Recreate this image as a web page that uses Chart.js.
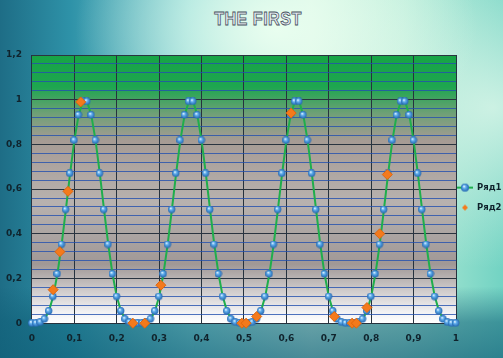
<!DOCTYPE html>
<html>
<head>
<meta charset="utf-8">
<script src="https://cdn.jsdelivr.net/npm/chart.js@4"></script>
<style>
  html, body { margin: 0; padding: 0; }
  body {
    width: 503px; height: 358px; overflow: hidden; position: relative;
    background:
      radial-gradient(ellipse 40% 40% at 55% 8%, rgba(235,255,240,0.95), rgba(235,255,240,0) 100%),
      radial-gradient(ellipse 40% 45% at 98% 30%, rgba(225,248,235,0.8), rgba(225,248,235,0) 100%),
      linear-gradient(to bottom, rgba(15,95,120,0) 80%, rgba(15,95,120,0.55) 90%, rgba(15,95,120,0.7) 100%),
      linear-gradient(to right, #1e6d86 0%, #2e92a8 14%, #8bd8d6 38%, #d2f3e2 62%, #b3ead6 80%, #72d3c3 100%);
  }
  #title {
    position: absolute; top: 9px; left: 0; width: 516px; text-align: center;
    font: bold 18px "Liberation Sans", sans-serif; color: #e4eaf2;
    -webkit-text-stroke: 0.8px #48525e; transform: scaleX(0.9); transform-origin: 258px 0;
    letter-spacing: 0.5px;
  }
  #chart { position: absolute; left: 0; top: 0; }
</style>
</head>
<body>
<div id="title">THE FIRST</div>
<canvas id="chart" width="503" height="358"></canvas>
<script>
// x positions of Ряд1 points
const xRow1 = [
  0, 0.01, 0.02, 0.03, 0.04, 0.05, 0.06, 0.07, 0.08, 0.09,
  0.10, 0.11, 0.12, 0.13, 0.14, 0.15, 0.16, 0.17, 0.18, 0.19,
  0.20, 0.21, 0.22, 0.23, 0.24, 0.25, 0.26, 0.27, 0.28, 0.29,
  0.30, 0.31, 0.32, 0.33, 0.34, 0.35, 0.36, 0.37, 0.38, 0.39,
  0.40, 0.41, 0.42, 0.43, 0.44, 0.45, 0.46, 0.47, 0.48, 0.49,
  0.50, 0.51, 0.52, 0.53, 0.54, 0.55, 0.56, 0.57, 0.58, 0.59,
  0.60, 0.61, 0.62, 0.63, 0.64, 0.65, 0.66, 0.67, 0.68, 0.69,
  0.70, 0.71, 0.72, 0.73, 0.74, 0.75, 0.76, 0.77, 0.78, 0.79,
  0.80, 0.81, 0.82, 0.83, 0.84, 0.85, 0.86, 0.87, 0.88, 0.89,
  0.90, 0.91, 0.92, 0.93, 0.94, 0.95, 0.96, 0.97, 0.98, 0.99,
  1.00
];
const yRow1 = [
  0, 0, 0.004, 0.018, 0.054, 0.119, 0.22, 0.352, 0.508, 0.67, 0.818, 0.931, 0.992, 0.992, 0.931, 0.818, 0.67, 0.508, 0.352, 0.22, 0.119, 0.054, 0.018, 0.004, 0,
  0, 0, 0.004, 0.018, 0.054, 0.119, 0.22, 0.352, 0.508, 0.67, 0.818, 0.931, 0.992, 0.992, 0.931, 0.818, 0.67, 0.508, 0.352, 0.22, 0.119, 0.054, 0.018, 0.004, 0,
  0, 0, 0.004, 0.018, 0.054, 0.119, 0.22, 0.352, 0.508, 0.67, 0.818, 0.931, 0.992, 0.992, 0.931, 0.818, 0.67, 0.508, 0.352, 0.22, 0.119, 0.054, 0.018, 0.004, 0,
  0, 0, 0.004, 0.018, 0.054, 0.119, 0.22, 0.352, 0.508, 0.67, 0.818, 0.931, 0.992, 0.992, 0.931, 0.818, 0.67, 0.508, 0.352, 0.22, 0.119, 0.054, 0.018, 0.004, 0,
  0
];
// Ряд2 (orange diamonds)
const xRow2 = [0.050, 0.066, 0.085, 0.115, 0.238, 0.266, 0.304, 0.495, 0.505, 0.530, 0.611, 0.713, 0.755, 0.765, 0.790, 0.820, 0.838];
const yRow2 = [0.15, 0.32, 0.59, 0.99, 0, 0, 0.17, 0, 0, 0.03, 0.94, 0.03, 0, 0, 0.07, 0.40, 0.665];

const xTickLabels = ['0', '0,1', '0,2', '0,3', '0,4', '0,5', '0,6', '0,7', '0,8', '0,9', '1'];
const yTickLabels = ['0', '0,2', '0,4', '0,6', '0,8', '1', '1,2'];

function sphere(r) {
  const cv = document.createElement('canvas');
  cv.width = cv.height = Math.ceil(r * 2);
  const c = cv.getContext('2d');
  const g = c.createRadialGradient(r * 0.75, r * 0.65, 0.3, r, r, r);
  g.addColorStop(0, '#e8f6ff');
  g.addColorStop(0.35, '#62b0ee');
  g.addColorStop(1, '#2366b0');
  c.fillStyle = g;
  c.beginPath(); c.arc(r, r, r, 0, Math.PI * 2); c.fill();
  return cv;
}

function legendIcon(withLine) {
  const cv = document.createElement('canvas');
  cv.width = 16; cv.height = 10;
  const c = cv.getContext('2d');
  if (withLine) {
    c.strokeStyle = '#1fae4c'; c.lineWidth = 2;
    c.beginPath(); c.moveTo(0, 5); c.lineTo(16, 5); c.stroke();
    c.drawImage(sphere(4), 4, 1);
  } else {
    c.fillStyle = '#f47a1c';
    c.beginPath(); c.moveTo(8, 2); c.lineTo(11, 5); c.lineTo(8, 8); c.lineTo(5, 5); c.closePath(); c.fill();
  }
  return cv;
}

const ball = sphere(3.7);
const icons = [legendIcon(true), legendIcon(false)];

const plotBg = {
  id: 'plotBg',
  beforeDraw(chart) {
    const { ctx, chartArea: a } = chart;
    const g = ctx.createLinearGradient(0, a.top, 0, a.bottom);
    g.addColorStop(0, '#17a445');
    g.addColorStop(0.12, '#1ea650');
    g.addColorStop(0.22, '#70a077');
    g.addColorStop(0.32, '#a69b94');
    g.addColorStop(0.55, '#b8b2af');
    g.addColorStop(0.78, '#a09896');
    g.addColorStop(0.88, '#d0cccc');
    g.addColorStop(0.96, '#f2f2f4');
    g.addColorStop(1, '#ffffff');
    ctx.save();
    ctx.fillStyle = g;
    ctx.fillRect(a.left, a.top, a.right - a.left, a.bottom - a.top);
    ctx.restore();
  }
};

const sideLegend = {
  id: 'sideLegend',
  afterDraw(chart) {
    const { ctx, chartArea: a } = chart;
    const cx = a.right + 9;
    const y0 = (a.top + a.bottom) / 2 - 1.5;
    ctx.save();
    ctx.font = 'bold 8.5px "DejaVu Sans"';
    ctx.fillStyle = '#10232c';
    ctx.textBaseline = 'middle';
    chart.data.datasets.forEach((ds, i) => {
      const y = y0 + i * 20;
      ctx.drawImage(icons[i], cx - 8, y - 5);
      ctx.fillText(ds.label, cx + 12, y);
    });
    ctx.restore();
  }
};

const tickFont = { family: 'DejaVu Sans', size: 9, weight: 'bold' };

new Chart(document.getElementById('chart'), {
  type: 'scatter',
  data: {
    datasets: [{
      label: 'Ряд1',
      data: xRow1.map((x, i) => ({ x, y: yRow1[i] })),
      showLine: true,
      borderColor: '#1fae4c',
      borderWidth: 2,
      pointStyle: ball,
      pointRadius: 3.7,
      order: 1,
      clip: false
    }, {
      label: 'Ряд2',
      data: xRow2.map((x, i) => ({ x, y: yRow2[i] })),
      showLine: false,
      backgroundColor: '#f47a1c',
      borderColor: '#e0660e',
      borderWidth: 1,
      pointStyle: 'rectRot',
      pointRadius: 5,
      order: 0,
      clip: false
    }]
  },
  options: {
    responsive: false,
    animation: false,
    devicePixelRatio: 1,
    layout: { padding: { left: -4, top: 55, right: 47, bottom: 4 } },
    scales: {
      x: {
        type: 'linear', min: 0, max: 1,
        ticks: {
          stepSize: 0.1, padding: 10, color: '#10232c', font: tickFont,
          callback: (v, i) => xTickLabels[i]
        },
        grid: { color: '#26323e', lineWidth: 1, drawTicks: false },
        border: { color: '#26323e' }
      },
      y: {
        min: 0, max: 1.2,
        ticks: {
          stepSize: 0.04, padding: 10, color: '#10232c', font: tickFont, autoSkip: false,
          callback: (v, i) => (i % 5 === 0 ? yTickLabels[i / 5] : '')
        },
        grid: {
          drawTicks: false,
          color: ctx => (ctx.index % 5 === 0 ? '#2a3440' : 'rgba(35,80,175,0.8)'),
          lineWidth: 1
        },
        border: { color: '#26323e' }
      }
    },
    plugins: {
      tooltip: { enabled: false },
      legend: { display: false }
    }
  },
  plugins: [plotBg, sideLegend]
});
</script>
</body>
</html>
